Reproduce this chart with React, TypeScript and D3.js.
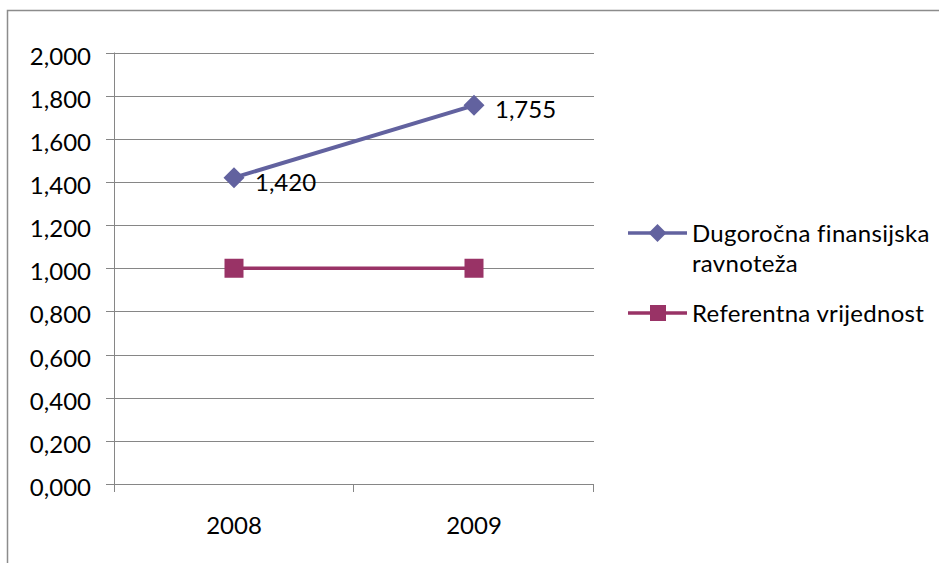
import * as d3 from 'd3';
import { useEffect, useRef } from 'react';

const years = ['2008', '2009'];
const dugorocna = [1.42, 1.755];
const referentna = [1.0, 1.0];
const yTicks = [0, 0.2, 0.4, 0.6, 0.8, 1.0, 1.2, 1.4, 1.6, 1.8, 2.0];
const seriesNames = ['Dugoročna finansijska', 'ravnoteža', 'Referentna vrijednost'];

const BLUE = '#62629f';
const MAGENTA = '#993366';
const GRID = '#868686';
const FONT = 'Lato, "Open Sans", sans-serif';
const FS = 24;

const fmt = (v: number) => d3.format('.3f')(v).replace('.', ',');

export default function App() {
    const ref = useRef<SVGSVGElement | null>(null);

    useEffect(() => {
        const svg = d3.select(ref.current);
        svg.selectAll('*').remove();

        const width = 939;
        const height = 563;
        const plot = { left: 114, right: 594, top: 52.5, bottom: 484 };

        svg.attr('width', width).attr('height', height);

        // chart frame (runs off the right and bottom edges)
        svg.append('rect')
            .attr('x', 7.5).attr('y', 10.5)
            .attr('width', 1200).attr('height', 1200)
            .attr('fill', 'white')
            .attr('stroke', '#8c8c8c')
            .attr('stroke-width', 1.5);

        const x = d3.scaleBand()
            .domain(years)
            .range([plot.left, plot.right]);

        const y = d3.scaleLinear()
            .domain([0, 2])
            .range([plot.bottom, plot.top]);

        const cx = (d: string) => x(d)! + x.bandwidth() / 2;

        // gridlines + y ticks
        svg.append('g')
            .selectAll('line')
            .data(yTicks)
            .enter()
            .append('line')
            .attr('x1', plot.left - 8)
            .attr('x2', plot.right)
            .attr('y1', d => Math.round(y(d)) + 0.5)
            .attr('y2', d => Math.round(y(d)) + 0.5)
            .attr('stroke', GRID)
            .attr('stroke-width', 1);

        svg.append('g')
            .selectAll('text')
            .data(yTicks)
            .enter()
            .append('text')
            .attr('x', 91)
            .attr('y', d => y(d) + 12)
            .attr('text-anchor', 'end')
            .attr('font-family', FONT)
            .attr('font-size', FS)
            .attr('fill', '#000')
            .text(d => fmt(d));

        // y axis line
        svg.append('line')
            .attr('x1', plot.left + 0.5).attr('x2', plot.left + 0.5)
            .attr('y1', plot.top).attr('y2', plot.bottom + 8)
            .attr('stroke', GRID);

        // x category ticks
        const edges = [...years.map(d => x(d)!), plot.right];
        svg.append('g')
            .selectAll('line')
            .data(edges.slice(1))
            .enter()
            .append('line')
            .attr('x1', d => Math.round(d) - 0.5)
            .attr('x2', d => Math.round(d) - 0.5)
            .attr('y1', plot.bottom)
            .attr('y2', plot.bottom + 8)
            .attr('stroke', GRID);

        svg.append('g')
            .selectAll('text')
            .data(years)
            .enter()
            .append('text')
            .attr('x', d => cx(d))
            .attr('y', 534)
            .attr('text-anchor', 'middle')
            .attr('font-family', FONT)
            .attr('font-size', FS)
            .text(d => d);

        const line = d3.line<number>()
            .x((_, i) => cx(years[i]))
            .y(d => y(d));

        // referentna
        svg.append('path')
            .datum(referentna)
            .attr('d', line)
            .attr('fill', 'none')
            .attr('stroke', MAGENTA)
            .attr('stroke-width', 3.5);

        svg.append('g')
            .selectAll('rect')
            .data(referentna)
            .enter()
            .append('rect')
            .attr('x', (_, i) => cx(years[i]) - 9.5)
            .attr('y', d => y(d) - 9.5)
            .attr('width', 19)
            .attr('height', 19)
            .attr('fill', MAGENTA);

        // dugorocna
        svg.append('path')
            .datum(dugorocna)
            .attr('d', line)
            .attr('fill', 'none')
            .attr('stroke', BLUE)
            .attr('stroke-width', 4);

        const diamond = (px: number, py: number, r: number) =>
            `M${px},${py - r}L${px + r},${py}L${px},${py + r}L${px - r},${py}Z`;

        svg.append('g')
            .selectAll('path')
            .data(dugorocna)
            .enter()
            .append('path')
            .attr('d', (d, i) => diamond(cx(years[i]), y(d), 10.5))
            .attr('fill', BLUE);

        svg.append('g')
            .selectAll('text')
            .data(dugorocna)
            .enter()
            .append('text')
            .attr('x', (_, i) => cx(years[i]) + 21)
            .attr('y', d => y(d) + 13)
            .attr('font-family', FONT)
            .attr('font-size', FS)
            .text(d => fmt(d));

        // legend
        const lg = svg.append('g');
        lg.append('line')
            .attr('x1', 628).attr('x2', 687).attr('y1', 233).attr('y2', 233)
            .attr('stroke', BLUE).attr('stroke-width', 3.5);
        lg.append('path')
            .attr('d', diamond(657.5, 233, 9))
            .attr('fill', BLUE);
        lg.append('line')
            .attr('x1', 628).attr('x2', 687).attr('y1', 313).attr('y2', 313)
            .attr('stroke', MAGENTA).attr('stroke-width', 3.5);
        lg.append('rect')
            .attr('x', 650).attr('y', 305).attr('width', 16).attr('height', 16)
            .attr('fill', MAGENTA);

        const lt = [
            { t: seriesNames[0], y: 242 },
            { t: seriesNames[1], y: 272 },
            { t: seriesNames[2], y: 322 },
        ];
        lg.selectAll('text')
            .data(lt)
            .enter()
            .append('text')
            .attr('x', 692)
            .attr('y', d => d.y)
            .attr('font-family', FONT)
            .attr('font-size', FS)
            .attr('letter-spacing', 0.3)
            .text(d => d.t);
    }, []);

    return <svg ref={ref} style={{ position: 'absolute', left: 0, top: 0 }}></svg>;
}
